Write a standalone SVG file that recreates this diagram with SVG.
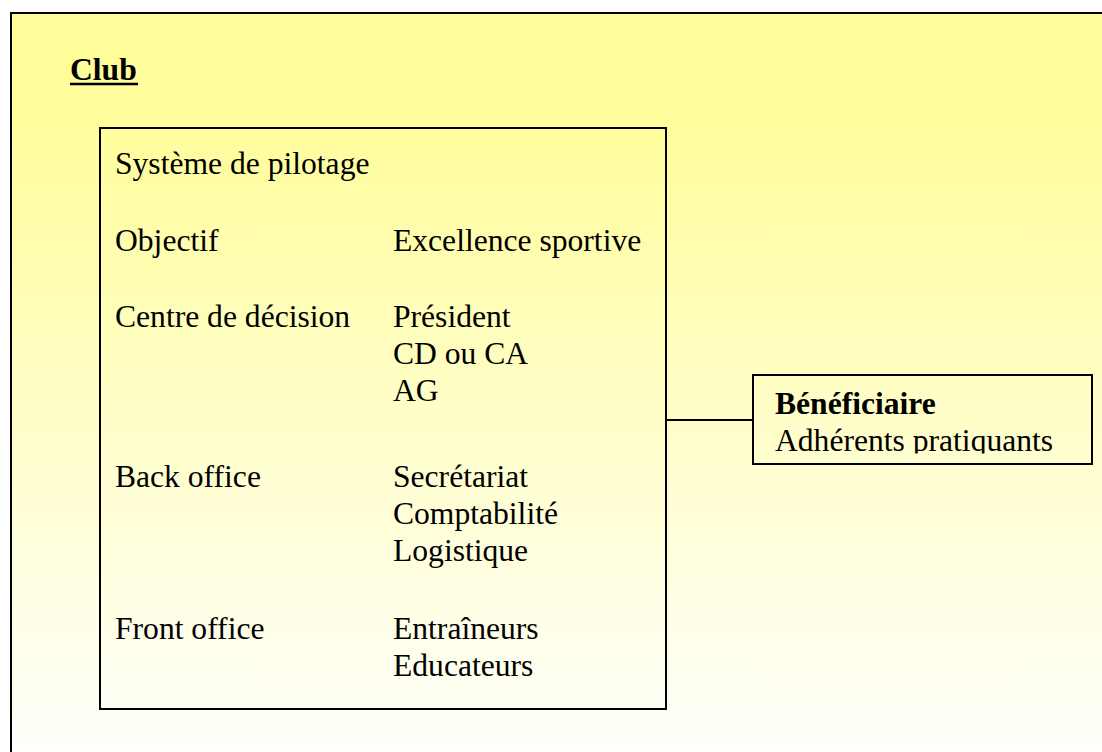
<svg xmlns="http://www.w3.org/2000/svg" width="1102" height="752" viewBox="0 0 1102 752">
  <defs>
    <linearGradient id="bg" x1="0" y1="0" x2="0" y2="1">
      <stop offset="0" stop-color="#FFFD99"/>
      <stop offset="0.15" stop-color="#FFFD9C"/>
      <stop offset="1" stop-color="#FFFFFF"/>
    </linearGradient>
    <clipPath id="benClip">
      <rect x="753" y="375" width="339" height="78.5"/>
    </clipPath>
  </defs>
  <style>
    .t { font-family: "Liberation Serif", "Times New Roman", serif; font-size: 31.6px; fill: #000; }
    .b { font-weight: bold; }
    .box { fill: none; stroke: #000; stroke-width: 2; }
    .conn { stroke: #000; stroke-width: 2; fill: none; }
  </style>
  <rect x="0" y="0" width="1102" height="752" fill="#FFFFFF"/>
  <g id="club">
    <rect x="11" y="13" width="1110" height="760" fill="url(#bg)" stroke="#000" stroke-width="2"/>
    <text class="t b" x="70" y="80">Club</text>
    <line x1="70" y1="84" x2="138" y2="84" stroke="#000" stroke-width="2.6"/>
  </g>
  <g id="connectors">
    <line class="conn" x1="666" y1="420" x2="753" y2="420"/>
  </g>
  <g id="pilotage">
    <rect class="box" x="100" y="128" width="566" height="581"/>
    <text class="t" x="115" y="174">Système de pilotage</text>
    <text class="t" x="115" y="251">Objectif</text>
    <text class="t" x="393" y="251">Excellence sportive</text>
    <text class="t" x="115" y="327">Centre de décision</text>
    <text class="t" x="393" y="327">Président</text>
    <text class="t" x="393" y="364">CD ou CA</text>
    <text class="t" x="393" y="401">AG</text>
    <text class="t" x="115" y="487">Back office</text>
    <text class="t" x="393" y="487">Secrétariat</text>
    <text class="t" x="393" y="524">Comptabilité</text>
    <text class="t" x="393" y="561">Logistique</text>
    <text class="t" x="115" y="639">Front office</text>
    <text class="t" x="393" y="639">Entraîneurs</text>
    <text class="t" x="393" y="676">Educateurs</text>
  </g>
  <g id="beneficiaire">
    <rect class="box" x="753" y="375" width="339" height="89"/>
    <g clip-path="url(#benClip)">
      <text class="t b" x="775" y="414">Bénéficiaire</text>
      <text class="t" x="775" y="451">Adhérents pratiquants</text>
    </g>
  </g>
</svg>
